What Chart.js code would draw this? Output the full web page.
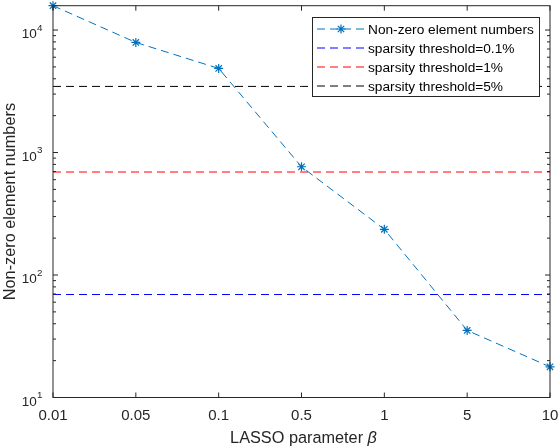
<!DOCTYPE html>
<html>
<head>
<meta charset="utf-8">
<script src="https://cdn.jsdelivr.net/npm/chart.js@4"></script>
<style>
  html, body { margin: 0; padding: 0; background: #fff; }
  canvas { display: block; }
</style>
</head>
<body>
<canvas id="graph" width="560" height="446"></canvas>
<script>
// values
const betaLabels = ["0.01", "0.05", "0.1", "0.5", "1", "5", "10"];
const nonZeroCounts = [15800, 7920, 4860, 765, 236, 35.3, 17.8];
const thresholdNames = ["sparsity threshold=0.1%", "sparsity threshold=1%", "sparsity threshold=5%"];
const thresholdValues = [69.3, 693, 3465];
const yTickValues = [10, 100, 1000, 10000];
const yMin = 10, yMax = 15800;

const FONT = '"Liberation Sans", Arial, Helvetica, sans-serif';
const AX = "#262626";
const thresholdColors = ["#0000ff", "#ff0000", "#000000"];

const datasets = [{
  label: "Non-zero element numbers",
  data: nonZeroCounts,
  borderColor: "#0072BD",
  backgroundColor: "#0072BD",
  borderWidth: 1,
  borderDash: [8, 5],
  pointStyle: "star",
  pointRadius: 4.5,
  pointBorderWidth: 1.2,
  pointBorderColor: "#0072BD",
  tension: 0,
  clip: false
}];
thresholdNames.forEach((name, i) => {
  datasets.push({
    label: name,
    data: betaLabels.map(() => thresholdValues[i]),
    borderColor: thresholdColors[i],
    borderWidth: 1,
    borderDash: [8, 5],
    pointRadius: 0,
    tension: 0
  });
});

function drawSample(ctx, ds, x0, x1, y) {
  ctx.save();
  ctx.strokeStyle = ds.borderColor;
  ctx.lineWidth = 1;
  ctx.setLineDash(ds.borderDash);
  ctx.beginPath(); ctx.moveTo(x0, y); ctx.lineTo(x1, y); ctx.stroke();
  ctx.setLineDash([]);
  if (ds.pointRadius > 0) {
    const xm = (x0 + x1) / 2, r = ds.pointRadius;
    ctx.strokeStyle = ds.pointBorderColor;
    ctx.lineWidth = ds.pointBorderWidth;
    ctx.beginPath();
    ctx.moveTo(xm - r, y); ctx.lineTo(xm + r, y);
    ctx.moveTo(xm, y - r); ctx.lineTo(xm, y + r);
    const d = r * Math.SQRT1_2;
    ctx.moveTo(xm - d, y - d); ctx.lineTo(xm + d, y + d);
    ctx.moveTo(xm - d, y + d); ctx.lineTo(xm + d, y - d);
    ctx.stroke();
  }
  ctx.restore();
}

const axesDecor = {
  id: "axesDecor",
  afterDraw(chart) {
    const ctx = chart.ctx;
    const { left, right, top, bottom } = chart.chartArea;
    const xs = chart.scales.x, ys = chart.scales.y;
    ctx.save();
    ctx.strokeStyle = AX;
    ctx.fillStyle = AX;
    ctx.lineWidth = 1;
    ctx.strokeRect(left, top, right - left, bottom - top);

    // x ticks (inward, bottom and top) + labels
    ctx.font = "15px " + FONT;
    ctx.textAlign = "center";
    ctx.textBaseline = "alphabetic";
    betaLabels.forEach((lab, i) => {
      const px = xs.getPixelForValue(i);
      ctx.beginPath();
      ctx.moveTo(px, bottom); ctx.lineTo(px, bottom - 5);
      ctx.moveTo(px, top); ctx.lineTo(px, top + 5);
      ctx.stroke();
      ctx.fillText(lab, px, bottom + 22.5);
    });

    // y ticks, major and minor, on both sides
    yTickValues.forEach(v => {
      for (let k = 1; k <= 9; k++) {
        const val = v * k;
        if (val > yMax) break;
        const py = ys.getPixelForValue(val);
        const len = k === 1 ? 5 : 3;
        ctx.beginPath();
        ctx.moveTo(left, py); ctx.lineTo(left + len, py);
        ctx.moveTo(right, py); ctx.lineTo(right - len, py);
        ctx.stroke();
      }
    });

    // y labels 10^n
    yTickValues.forEach(v => {
      const py = ys.getPixelForValue(v);
      const exp = String(Math.round(Math.log10(v)));
      ctx.font = "13.5px " + FONT;
      ctx.textAlign = "right";
      ctx.fillText("10", left - 16.3, py + 8);
      ctx.font = "9.8px " + FONT;
      ctx.textAlign = "left";
      ctx.fillText(exp, left - 16, py + 0.5);
    });

    // x title with italic beta
    const t1 = "LASSO parameter ", t2 = "\u03b2";
    const tf = "16.3px " + FONT;
    ctx.font = tf;
    const w1 = ctx.measureText(t1).width;
    ctx.font = "italic " + tf;
    const w2 = ctx.measureText(t2).width;
    const sx = (left + right) / 2 + 2 - (w1 + w2) / 2;
    ctx.textAlign = "left";
    ctx.font = tf;
    ctx.fillText(t1, sx, 443);
    ctx.font = "italic " + tf;
    ctx.fillText(t2, sx + w1, 443);

    // y title
    ctx.save();
    ctx.translate(15, (top + bottom) / 2);
    ctx.rotate(-Math.PI / 2);
    ctx.font = "16.3px " + FONT;
    ctx.textAlign = "center";
    ctx.fillText("Non-zero element numbers", 0, 0);
    ctx.restore();

    // legend box
    const lx = 312.5, ly = 17.5, lw = 227, lh = 79;
    ctx.fillStyle = "#fff";
    ctx.fillRect(lx, ly, lw, lh);
    ctx.strokeStyle = AX;
    ctx.strokeRect(lx, ly, lw, lh);
    const rows = [29, 48, 67, 86];
    chart.data.datasets.forEach((ds, i) => {
      drawSample(ctx, ds, 317, 365, rows[i]);
      ctx.fillStyle = "#000";
      ctx.font = "13.7px " + FONT;
      ctx.textAlign = "left";
      ctx.textBaseline = "middle";
      ctx.fillText(ds.label, 368, rows[i] + 1);
      ctx.textBaseline = "alphabetic";
    });
    ctx.restore();
  }
};

new Chart(document.getElementById("graph"), {
  type: "line",
  data: { labels: betaLabels, datasets: datasets },
  options: {
    responsive: false,
    animation: false,
    layout: { padding: { left: 53, right: 10, top: 5, bottom: 48.5 } },
    plugins: { legend: { display: false }, tooltip: { enabled: false } },
    scales: {
      x: { type: "category", offset: false, display: false },
      y: { type: "logarithmic", min: yMin, max: yMax, display: false }
    }
  },
  plugins: [axesDecor]
});
</script>
</body>
</html>
